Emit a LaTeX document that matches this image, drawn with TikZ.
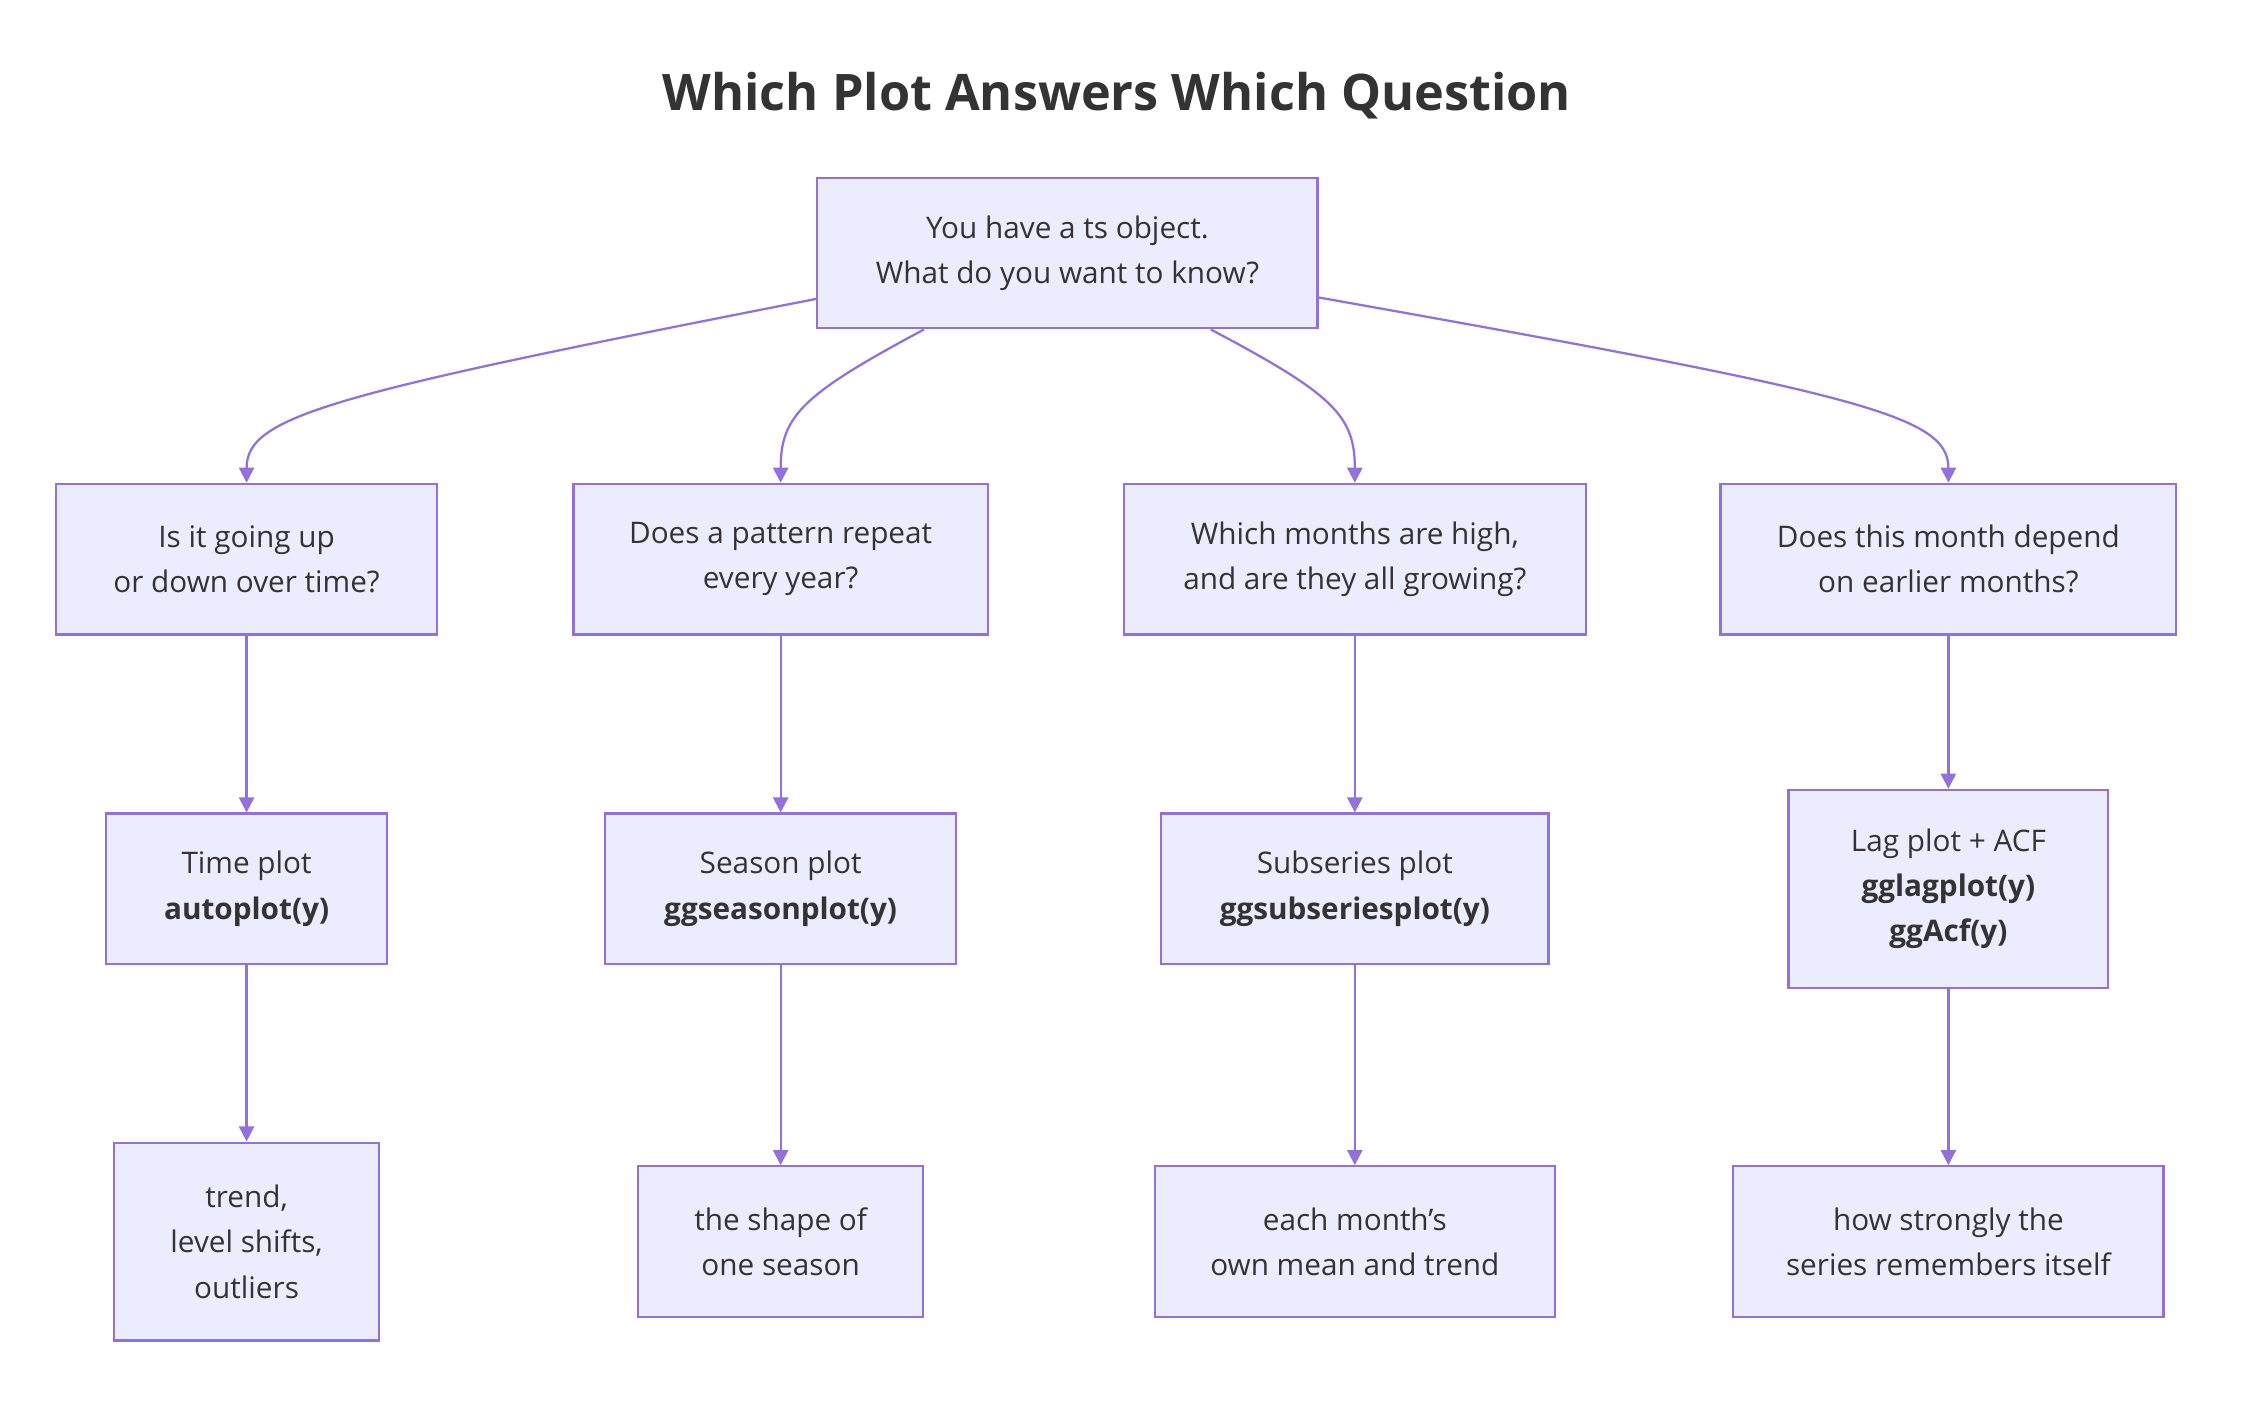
\documentclass[tikz,border=0pt]{standalone}
\usepackage{fontspec}
\setmainfont{Open Sans}
\usepackage[HTML]{xcolor}
\usetikzlibrary{positioning, arrows.meta, calc}
\definecolor{boxfill}{HTML}{ECECFF}
\definecolor{boxline}{HTML}{9370DB}
\definecolor{txt}{HTML}{333333}

\tikzset{
  box/.style={draw=boxline, fill=boxfill, line width=0.9pt, align=center, text=txt,
    font=\fontsize{11.8}{18}\selectfont, inner sep=0pt},
  link/.style={draw=boxline, line width=0.9pt, -{Triangle[length=6pt,width=6pt]}}
}

\begin{document}
\begin{tikzpicture}[x=0.02cm, y=-0.02cm]
\useasboundingbox (0,0) rectangle (1568,982);

% --- title ---
\node[text=txt, font=\fontsize{20}{26}\selectfont\bfseries] (title) at (779,67) {Which Plot Answers Which Question};

% --- root ---
\node[box, minimum width=349*0.02cm, minimum height=105*0.02cm] (root) at (744.5,176.5)
  {You have a ts object.\\What do you want to know?};

% --- questions ---
\node[box, minimum width=266*0.02cm, minimum height=105*0.02cm] (qtrend) at (172,390) {Is it going up\\or down over time?};
\node[box, minimum width=289*0.02cm, minimum height=105*0.02cm] (qseason) at (544.5,390) {Does a pattern repeat\\every year?};
\node[box, minimum width=322*0.02cm, minimum height=105*0.02cm] (qmonth) at (945,390) {Which months are high,\\and are they all growing?};
\node[box, minimum width=318*0.02cm, minimum height=105*0.02cm] (qlag) at (1359,390) {Does this month depend\\on earlier months?};

% --- plots ---
\node[box, minimum width=196*0.02cm, minimum height=105*0.02cm] (ptime) at (172,620) {Time plot\\\textbf{autoplot(y)}};
\node[box, minimum width=245*0.02cm, minimum height=105*0.02cm] (pseason) at (544.5,620) {Season plot\\\textbf{ggseasonplot(y)}};
\node[box, minimum width=270*0.02cm, minimum height=105*0.02cm] (psub) at (945,620) {Subseries plot\\\textbf{ggsubseriesplot(y)}};
\node[box, minimum width=223*0.02cm, minimum height=138*0.02cm] (plag) at (1359,620) {Lag plot + ACF\\\textbf{gglagplot(y)}\\\textbf{ggAcf(y)}};

% --- answers ---
\node[box, minimum width=185*0.02cm, minimum height=138*0.02cm] (atime) at (172,866) {trend,\\level shifts,\\outliers};
\node[box, minimum width=199*0.02cm, minimum height=105*0.02cm] (aseason) at (544.5,866) {the shape of\\one season};
\node[box, minimum width=279*0.02cm, minimum height=105*0.02cm] (asub) at (945,866) {each month\symbol{39}s\\own mean and trend};
\node[box, minimum width=300*0.02cm, minimum height=105*0.02cm] (alag) at (1359,866) {how strongly the\\series remembers itself};

% --- connectors ---
\draw[link] ([yshift=-0.64cm]root.west) .. controls (230,275) and (172,290) .. (qtrend.north);
\draw[link] ([xshift=-2cm]root.south) .. controls (560,275) and (544.5,290) .. (qseason.north);
\draw[link] ([xshift=2cm]root.south) .. controls (930,275) and (945,290) .. (qmonth.north);
\draw[link] ([yshift=-0.62cm]root.east) .. controls (1300,275) and (1359,290) .. (qlag.north);

\foreach \q/\p/\a in {qtrend/ptime/atime, qseason/pseason/aseason, qmonth/psub/asub, qlag/plag/alag} {
  \draw[link] (\q) -- (\p);
  \draw[link] (\p) -- (\a);
}
\end{tikzpicture}
\end{document}
